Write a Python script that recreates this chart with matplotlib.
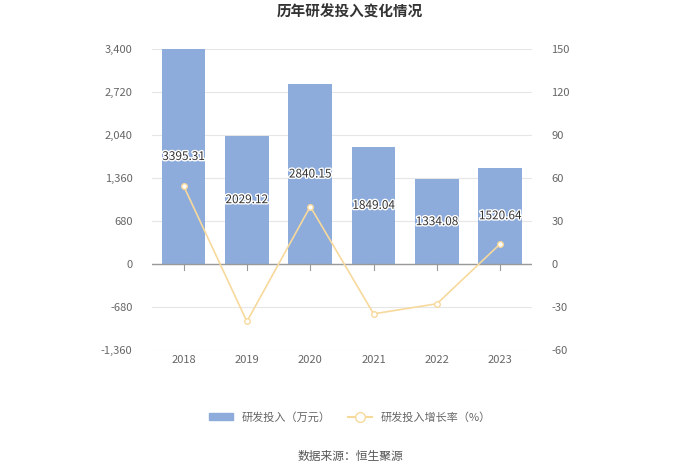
import matplotlib
matplotlib.use("Agg")
import matplotlib.pyplot as plt
import matplotlib.patheffects as pe
from matplotlib.lines import Line2D
from matplotlib.patches import Patch

plt.rcParams['font.family'] = ['Noto Sans CJK SC', 'DejaVu Sans']
plt.rcParams['axes.unicode_minus'] = False

years = ["2018", "2019", "2020", "2021", "2022", "2023"]
rd_invest = [3395.31, 2029.12, 2840.15, 1849.04, 1334.08, 1520.64]
growth = [54.4, -40.24, 39.97, -34.90, -27.85, 13.98]
left_ticks = [-1360, -680, 0, 680, 1360, 2040, 2720, 3400]
right_ticks = [-60, -30, 0, 30, 60, 90, 120, 150]

bar_color = "#8dacdb"
line_color = "#f7d99c"
txt_color = "#666666"

fig = plt.figure(figsize=(7, 4.74), dpi=100)
ax = fig.add_axes([0.217, 0.262, 0.543, 0.635])
ax2 = ax.twinx()

x = range(len(years))
ax.bar(x, rd_invest, width=0.69, color=bar_color, zorder=2)
for i, v in enumerate(rd_invest):
    ax.text(i, v / 2, "%.2f" % v, ha="center", va="center", fontsize=8.5,
            color="#333333", zorder=5,
            path_effects=[pe.withStroke(linewidth=2, foreground="white")])

ax.set_ylim(-1360, 3400)
ax.set_yticks(left_ticks)
ax.set_yticklabels(["{:,}".format(t) for t in left_ticks])
ax.set_xlim(-0.5, len(years) - 0.5)
ax.set_xticks(list(x))
ax.set_xticklabels(years)
ax.grid(axis="y", color="#e6e6e6", linewidth=0.8, zorder=0)
ax.axhline(0, color="#999999", linewidth=1, zorder=3)

ax2.plot(list(x), growth, color=line_color, linewidth=1.2, marker="o",
         markersize=4, markerfacecolor="white", markeredgecolor=line_color, zorder=4)
ax2.set_ylim(-60, 150)
ax2.set_yticks(right_ticks)

for a in (ax, ax2):
    for s in a.spines.values():
        s.set_visible(False)
    a.tick_params(axis="y", colors=txt_color, labelsize=8, length=0, pad=14)
ax.tick_params(axis="x", colors=txt_color, labelsize=8, length=0, pad=4)
# small tick marks hanging below the zero line
for i in x:
    ax.plot([i, i], [0, -90], color="#999999", linewidth=0.8, zorder=3, clip_on=False)

fig.text(0.5, 0.975, "历年研发投入变化情况", ha="center", va="center",
         fontsize=10.5, fontweight="bold", color="#333333")

handles = [Patch(color=bar_color),
           Line2D([0], [0], color=line_color, marker="o", markersize=7,
                  markerfacecolor="white", markeredgecolor=line_color)]
fig.legend(handles, ["研发投入（万元）", "研发投入增长率（%）"], loc="center",
           bbox_to_anchor=(0.5, 0.12), ncol=2, frameon=False, fontsize=8,
           labelcolor=txt_color, handlelength=2.2, columnspacing=1.5)

fig.text(0.5, 0.036, "数据来源：恒生聚源", ha="center", va="center",
         fontsize=8.5, color="#555555")

fig.savefig("out.png", dpi=100)
